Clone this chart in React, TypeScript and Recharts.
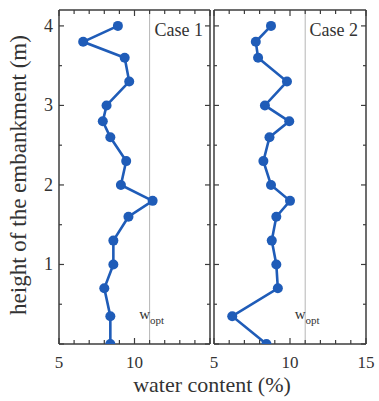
import React from 'react';
import { LineChart, Line, XAxis, YAxis, ReferenceLine } from 'recharts';

// ---- data ----
const heights = [4.0, 3.8, 3.6, 3.3, 3.0, 2.8, 2.6, 2.3, 2.0, 1.8, 1.6, 1.3, 1.0, 0.7, 0.35, 0];
const case1Water = [8.9, 6.6, 9.35, 9.65, 8.15, 7.9, 8.4, 9.45, 9.1, 11.2, 9.6, 8.6, 8.6, 8.0, 8.4, 8.4];
const case2Water = [8.75, 7.75, 7.9, 9.8, 8.35, 9.95, 8.65, 8.25, 8.75, 10.0, 9.1, 8.8, 9.1, 9.2, 6.2, 8.45];
const yTicks = [0, 0.5, 1, 1.5, 2, 2.5, 3, 3.5, 4];
const xTicks = [5, 6, 7, 8, 9, 10, 11, 12, 13, 14, 15];
const wOpt = 11;
const caseLabels = ['Case 1', 'Case 2'];
const xTitle = 'water content (%)';
const yTitle = 'height of the embankment  (m)';

const case1Data = heights.map((h, i) => ({ h, w: case1Water[i] }));
const case2Data = heights.map((h, i) => ({ h, w: case2Water[i] }));

// ---- styles ----
const FONT = '"Liberation Serif", "Times New Roman", serif';
const FRAME = '#3c3c3c';
const BLUE = '#1f5cb8';
const TEXT = '#333';
const W = 379;
const H = 401;

const isMajor = (v: number) => Math.abs(v - Math.round(v)) < 1e-6;

const makeYTick = (side: 'left' | 'right', showLabel: boolean) => (props: any) => {
  const { x, y, payload } = props;
  const v = payload.value as number;
  const major = isMajor(v);
  const len = major ? 5 : 3;
  const dir = side === 'left' ? 1 : -1;
  return (
    <g>
      <line x1={x} x2={x + dir * len} y1={y} y2={y} stroke={FRAME} strokeWidth={1.2} />
      {showLabel && major && v > 0 ? (
        <text x={x - 6} y={y} dy={6} textAnchor="end" fontFamily={FONT} fontSize={18} fill={TEXT}>
          {v}
        </text>
      ) : null}
    </g>
  );
};

const makeXTick = (side: 'bottom' | 'top', labels: number[]) => (props: any) => {
  const { x, y, payload } = props;
  const v = payload.value as number;
  const major = v % 5 === 0;
  const len = major ? 6 : 4;
  const dir = side === 'bottom' ? -1 : 1;
  return (
    <g>
      <line x1={x} x2={x} y1={y} y2={y + dir * len} stroke={FRAME} strokeWidth={1.2} />
      {side === 'bottom' && labels.includes(v) ? (
        <text x={x} y={y + 24} textAnchor="middle" fontFamily={FONT} fontSize={17} fill={TEXT}>
          {v}
        </text>
      ) : null}
    </g>
  );
};

const WOptLabel = (props: any) => {
  const { viewBox } = props;
  const x = viewBox.x;
  const y = viewBox.y + viewBox.height - 25;
  return (
    <text x={x + 2} y={y} textAnchor="middle" fontFamily={FONT} fill={TEXT}>
      <tspan fontSize={15}>w</tspan>
      <tspan fontSize={11} dy={5}>opt</tspan>
    </text>
  );
};

type PanelProps = {
  data: { h: number; w: number }[];
  left: number;
  right: number;
  yLabels: boolean;
  xLabels: number[];
};

const TOP = 10;
const BOTTOM = 344;

const Panel = ({ data, left, right, yLabels, xLabels }: PanelProps) => (
  <div style={{ position: 'absolute', left: 0, top: 0 }}>
    <LineChart
      width={W}
      height={H}
      data={data}
      margin={{ top: TOP - 1, right: W - right - 1, bottom: H - BOTTOM - 1, left: left - 1 }}
    >
      <XAxis
        xAxisId="b"
        type="number"
        dataKey="w"
        domain={[5, 15]}
        ticks={xTicks}
        height={1}
        tickSize={0}
        tickMargin={0}
        tickLine={false}
        axisLine={{ stroke: FRAME, strokeWidth: 1.5 }}
        tick={makeXTick('bottom', xLabels)}
        interval={0}
        allowDataOverflow
      />
      <XAxis
        xAxisId="t"
        orientation="top"
        type="number"
        dataKey="w"
        domain={[5, 15]}
        ticks={xTicks}
        height={1}
        tickSize={0}
        tickMargin={0}
        tickLine={false}
        axisLine={{ stroke: FRAME, strokeWidth: 1.5 }}
        tick={makeXTick('top', [])}
        interval={0}
        allowDataOverflow
      />
      <YAxis
        yAxisId="l"
        type="number"
        domain={[0, 4.2]}
        ticks={yTicks}
        width={1}
        tickSize={0}
        tickMargin={0}
        tickLine={false}
        axisLine={{ stroke: FRAME, strokeWidth: 1.5 }}
        tick={makeYTick('left', yLabels)}
        interval={0}
        allowDataOverflow
      />
      <YAxis
        yAxisId="r"
        orientation="right"
        type="number"
        domain={[0, 4.2]}
        ticks={yTicks}
        width={1}
        tickSize={0}
        tickMargin={0}
        tickLine={false}
        axisLine={{ stroke: FRAME, strokeWidth: 1.5 }}
        tick={makeYTick('right', false)}
        interval={0}
        allowDataOverflow
      />
      <ReferenceLine
        xAxisId="b"
        yAxisId="l"
        x={wOpt}
        stroke="#b5b5b5"
        strokeWidth={1}
        label={<WOptLabel />}
      />
      <Line
        xAxisId="b"
        yAxisId="l"
        dataKey="h"
        stroke={BLUE}
        strokeWidth={2.6}
        dot={{ r: 5, fill: BLUE, stroke: BLUE, strokeWidth: 0 }}
        isAnimationActive={false}
      />
    </LineChart>
  </div>
);

export default function App() {
  return (
    <div
      style={{
        position: 'fixed',
        left: 0,
        top: 0,
        width: W,
        height: H,
        background: '#fff',
        overflow: 'hidden',
      }}
    >
      <Panel data={case1Data} left={59} right={210} yLabels={true} xLabels={[5, 10]} />
      <Panel data={case2Data} left={214} right={366} yLabels={false} xLabels={[5, 10, 15]} />
      <svg
        width={W}
        height={H}
        style={{ position: 'absolute', left: 0, top: 0, pointerEvents: 'none' }}
      >
        <text
          x={0}
          y={0}
          transform={`translate(26, 175) rotate(-90)`}
          textAnchor="middle"
          fontFamily={FONT}
          fontSize={23}
          fill={TEXT}
        >
          {yTitle}
        </text>
        <text x={212} y={392} textAnchor="middle" fontFamily={FONT} fontSize={22} fill={TEXT}>
          {xTitle}
        </text>
        <text x={203} y={36} textAnchor="end" fontFamily={FONT} fontSize={18} fill={TEXT}>
          {caseLabels[0]}
        </text>
        <text x={358} y={36} textAnchor="end" fontFamily={FONT} fontSize={18} fill={TEXT}>
          {caseLabels[1]}
        </text>
      </svg>
    </div>
  );
}
